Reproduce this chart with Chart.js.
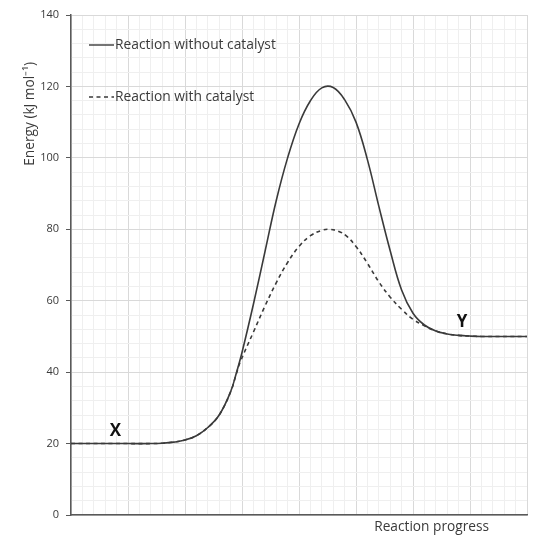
<!DOCTYPE html>
<html>
<head>
<meta charset="utf-8">
<script src="https://cdn.jsdelivr.net/npm/chart.js@4"></script>
<style>
  html, body { margin: 0; padding: 0; background: #fff; }
  #wrap { width: 553px; height: 544px; position: relative; }
</style>
</head>
<body>
<div id="wrap"><canvas id="c"></canvas></div>
<script>
// reaction progress in minor grid units (0..40), energy in kJ/mol
const progressSolid = [0, 5, 7, 8, 9, 10, 11, 12, 13, 14, 14.5, 15, 16, 17, 18, 19, 20, 21, 22, 23, 24, 25, 26, 27, 28, 29, 30, 31, 32, 33, 34, 35, 36, 40];
const energySolid   = [20, 20, 20, 20.1, 20.4, 21, 22.2, 24.5, 28, 34.5, 39.7, 45.5, 59, 73.5, 88, 100, 109.5, 116, 119.6, 119.7, 116.3, 110, 99.5, 86.5, 74, 63, 56.5, 53.2, 51.5, 50.7, 50.3, 50.1, 50, 50];

const progressDashed = [0, 5, 7, 8, 9, 10, 11, 12, 13, 14, 14.5, 14.8, 16, 17, 18, 19, 20, 21, 22, 22.6, 23.5, 24.2, 25, 26, 27, 28, 29, 30, 31, 32, 33, 34, 35, 36, 40];
const energyDashed   = [20, 20, 20, 20.1, 20.4, 21, 22.2, 24.5, 28, 34.5, 39.5, 42.5, 51.2, 58.4, 65, 70.7, 75.2, 78.2, 79.7, 80, 79.4, 78, 75.2, 70.5, 65.3, 61, 57.6, 54.8, 53, 51.5, 50.7, 50.3, 50.1, 50, 50];

const seriesNames = ['Reaction without catalyst', 'Reaction with catalyst'];
const yTickLabels = [0, 20, 40, 60, 80, 100, 120, 140];
const xTitle = 'Reaction progress';
const yTitle = 'Energy (kJ mol\u207B\u00B9)';
const pointNames = ['X', 'Y'];

const INK = '#3a3a3a';
const AXIS = '#595959';

const toPts = (xs, ys) => xs.map((x, i) => ({ x: x, y: ys[i] }));

const extras = {
  id: 'extras',
  afterDraw(chart) {
    const { ctx, scales } = chart;
    ctx.save();
    // legend in the top-left of the plot
    ctx.font = '13.8px "Open Sans"';
    ctx.fillStyle = INK;
    ctx.textBaseline = 'middle';
    const rows = [45, 97];
    chart.data.datasets.forEach((ds, i) => {
      const y = rows[i];
      ctx.strokeStyle = ds.borderColor;
      ctx.lineWidth = 1.4;
      ctx.setLineDash(ds.borderDash || []);
      ctx.beginPath();
      ctx.moveTo(89, y);
      ctx.lineTo(114, y);
      ctx.stroke();
      ctx.setLineDash([]);
      ctx.fillText(ds.label, 115, y);
    });
    // X / Y markers
    ctx.font = 'bold 17px "Open Sans"';
    ctx.fillStyle = '#111';
    ctx.textAlign = 'center';
    ctx.fillText(pointNames[0], scales.x.getPixelForValue(3.9), scales.y.getPixelForValue(23.6));
    ctx.fillText(pointNames[1], scales.x.getPixelForValue(34.3), scales.y.getPixelForValue(54));
    // axis titles
    ctx.font = '13.7px "Open Sans"';
    ctx.fillStyle = INK;
    ctx.textAlign = 'right';
    ctx.fillText(xTitle, 489, 527);
    ctx.translate(30, 62);
    ctx.rotate(-Math.PI / 2);
    ctx.fillText(yTitle, 0, 0);
    ctx.restore();
  }
};

new Chart(document.getElementById('c'), {
  type: 'scatter',
  data: {
    datasets: [
      { label: seriesNames[0], data: toPts(progressSolid, energySolid), borderColor: INK, borderWidth: 1.6 },
      { label: seriesNames[1], data: toPts(progressDashed, energyDashed), borderColor: INK, borderWidth: 1.6, borderDash: [4, 3.5] }
    ]
  },
  options: {
    responsive: true,
    maintainAspectRatio: false,
    animation: false,
    showLine: true,
    elements: { point: { radius: 0, hoverRadius: 0 }, line: { tension: 0.4 } },
    layout: { padding: { top: 15, right: 26, left: 0, bottom: 0 } },
    plugins: { legend: { display: false }, tooltip: { enabled: false } },
    scales: {
      x: {
        type: 'linear', min: 0, max: 40,
        afterFit: (s) => { s.height = 29; },
        ticks: { stepSize: 1, display: false, autoSkip: false, maxTicksLimit: 100 },
        grid: {
          drawTicks: false,
          color: (c) => Math.round(c.tick.value) % 5 === 0 ? '#d9d9d9' : '#efefef',
          lineWidth: 1
        },
        border: { color: AXIS, width: 1.5 }
      },
      y: {
        min: 0, max: 140,
        afterFit: (s) => { s.width = 71; },
        ticks: {
          stepSize: 4, autoSkip: false, maxTicksLimit: 100, padding: 7,
          color: INK, font: { family: '"Open Sans"', size: 11 },
          callback: (v) => yTickLabels.includes(v) ? String(v) : ''
        },
        grid: {
          tickLength: 5,
          color: (c) => Math.round(c.tick.value) % 20 === 0 ? '#d9d9d9' : '#efefef',
          tickColor: (c) => Math.round(c.tick.value) % 20 === 0 ? AXIS : 'rgba(0,0,0,0)'
        },
        border: { color: AXIS, width: 1.5 }
      }
    }
  },
  plugins: [extras]
});
</script>
</body>
</html>
